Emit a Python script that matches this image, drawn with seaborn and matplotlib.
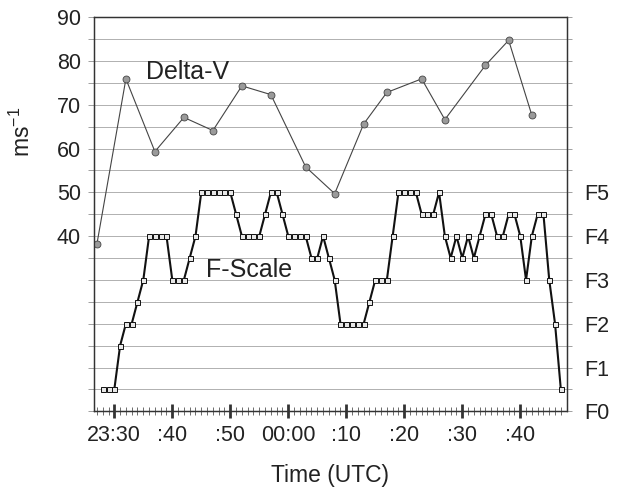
import numpy as np
import pandas as pd
import matplotlib
matplotlib.use("Agg")
import matplotlib.pyplot as plt
import seaborn as sns

# ---- data (minutes after 23:30 UTC) ----
dv_minutes = [-3, 2, 7, 12, 17, 22, 27, 33, 38, 43, 47, 53, 57, 64, 68, 72]
dv_values = [38.2, 75.9, 59.3, 67.1, 64.1, 74.3, 72.3, 55.8, 49.7, 65.6,
             72.8, 75.9, 66.6, 79.0, 84.7, 67.6]

f_minutes = list(range(-2, 78))
f_ratings = [0.5, 0.5, 0.5, 1.5, 2, 2, 2.5, 3, 4, 4,
             4, 4, 3, 3, 3, 3.5, 4, 5, 5, 5,
             5, 5, 5, 4.5, 4, 4, 4, 4, 4.5, 5,
             5, 4.5, 4, 4, 4, 4, 3.5, 3.5, 4, 3.5,
             3, 2, 2, 2, 2, 2, 2.5, 3, 3, 3,
             4, 5, 5, 5, 5, 4.5, 4.5, 4.5, 5, 4,
             3.5, 4, 3.5, 4, 3.5, 4, 4.5, 4.5, 4, 4,
             4.5, 4.5, 4, 3, 4, 4.5, 4.5, 3, 2, 0.5]

x_tick_pos = [0, 10, 20, 30, 40, 50, 60, 70]
x_tick_labels = ["23:30", ":40", ":50", "00:00", ":10", ":20", ":30", ":40"]
left_tick_labels = ["40", "50", "60", "70", "80", "90"]
right_tick_labels = ["F0", "F1", "F2", "F3", "F4", "F5"]

dv_df = pd.DataFrame({"minute": dv_minutes, "dv": dv_values})
f_df = pd.DataFrame({"minute": f_minutes, "f": f_ratings})

sns.set_style("white")
plt.rcParams["font.family"] = ["Liberation Sans", "DejaVu Sans"]
plt.rcParams["mathtext.fontset"] = "custom"
plt.rcParams["mathtext.rm"] = "Liberation Sans"

fig = plt.figure(figsize=(6.22, 4.88), dpi=100)
ax = fig.add_axes([0.1516, 0.157, 0.7594, 0.808])
ax2 = ax.twinx()

# Delta-V
sns.lineplot(data=dv_df, x="minute", y="dv", ax=ax, color="#444444", lw=0.8,
             marker="o", markersize=5, markerfacecolor="#9a9a9a",
             markeredgecolor="#444444", markeredgewidth=0.6, zorder=3)
# F-scale
sns.lineplot(data=f_df, x="minute", y="f", ax=ax2, color="#111111", lw=1.5,
             marker="s", markersize=3.6, markerfacecolor="#e8e8e8",
             markeredgecolor="#111111", markeredgewidth=0.7, zorder=3)

ax.set_xlim(-3.45, 78.0)
ax.set_ylim(0, 90)
ax2.set_ylim(0, 9)

# left y axis
ax.set_yticks(np.arange(0, 91, 5))
ax.set_yticklabels([(left_tick_labels[(int(v) - 40) // 10] if v >= 40 and v % 10 == 0 else "")
                    for v in np.arange(0, 91, 5)])
ax.tick_params(axis="y", which="major", direction="out", length=4.3, width=0.7,
               color="#a0a0a0", pad=5.5, labelsize=15.5, labelcolor="#222222")
ax.yaxis.grid(True, color="#b0b0b0", lw=0.7)
ax.xaxis.grid(False)

# right y axis
ax2.set_yticks(np.arange(0, 9.01, 0.5))
ax2.set_yticklabels([(right_tick_labels[int(v)] if v <= 5 and v == int(v) else "")
                     for v in np.arange(0, 9.01, 0.5)])
ax2.tick_params(axis="y", which="major", direction="out", length=3.6, width=0.7,
                color="#a0a0a0", pad=9, labelsize=15.5, labelcolor="#222222")
ax2.grid(False)

# x axis
ax.set_xticks(x_tick_pos)
ax.set_xticklabels(x_tick_labels)
ax.set_xticks(np.arange(-3, 78, 1), minor=True)
ax.tick_params(axis="x", which="major", direction="inout", length=9.6, width=2,
               color="#333333", pad=5, labelsize=15.5, labelcolor="#222222")
ax.tick_params(axis="x", which="minor", direction="inout", length=5.5, width=0.6,
               color="#555555")
ax.tick_params(axis="x", which="both", bottom=True)

for a in (ax, ax2):
    for s in a.spines.values():
        s.set_visible(True)
        s.set_color("#333333")
        s.set_linewidth(0.9)

ax.set_xlabel("Time (UTC)", fontsize=16.5, color="#222222", labelpad=13)
ax2.set_ylabel("")
ax.set_ylabel(r"ms$^{\mathregular{-1}}$", fontsize=16.5, color="#222222")
ax.yaxis.set_label_coords(-0.1255, 0.71)

ax.text(5.4, 77.4, "Delta-V", fontsize=18, color="#222222", ha="left", va="center")
ax.text(15.8, 32.3, "F-Scale", fontsize=18, color="#222222", ha="left", va="center")

fig.savefig("out.png", dpi=100)
